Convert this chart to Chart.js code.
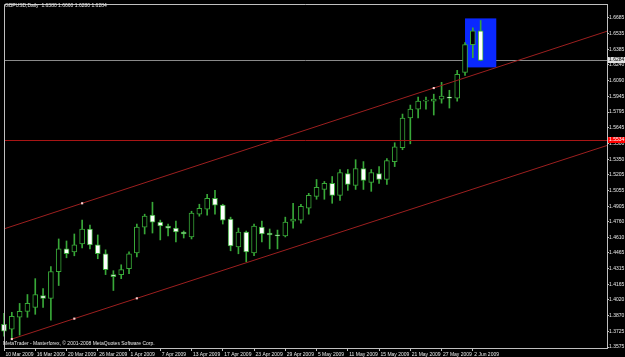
<!DOCTYPE html>
<html>
<head>
<meta charset="utf-8">
<script src="https://cdn.jsdelivr.net/npm/chart.js@4.4.0/dist/chart.umd.min.js"></script>
<style>
  html, body { margin: 0; padding: 0; background: #000; }
  #myChart { display: block; }
</style>
</head>
<body>
<canvas id="myChart" width="625" height="357"></canvas>
<script>
// GBPUSD daily bars, 10 Mar 2009 - 3 Jun 2009
var dates = [
  '10 Mar 2009', '11 Mar 2009', '12 Mar 2009', '13 Mar 2009', '16 Mar 2009', '17 Mar 2009', '18 Mar 2009', '19 Mar 2009',
  '20 Mar 2009', '23 Mar 2009', '24 Mar 2009', '25 Mar 2009', '26 Mar 2009', '27 Mar 2009', '30 Mar 2009', '31 Mar 2009',
  '1 Apr 2009', '2 Apr 2009', '3 Apr 2009', '6 Apr 2009', '7 Apr 2009', '8 Apr 2009', '9 Apr 2009', '10 Apr 2009',
  '13 Apr 2009', '14 Apr 2009', '15 Apr 2009', '16 Apr 2009', '17 Apr 2009', '20 Apr 2009', '21 Apr 2009', '22 Apr 2009',
  '23 Apr 2009', '24 Apr 2009', '27 Apr 2009', '28 Apr 2009', '29 Apr 2009', '30 Apr 2009',
  '1 May 2009', '4 May 2009', '5 May 2009', '6 May 2009', '7 May 2009', '8 May 2009', '11 May 2009', '12 May 2009',
  '13 May 2009', '14 May 2009', '15 May 2009', '18 May 2009', '19 May 2009', '20 May 2009', '21 May 2009', '22 May 2009',
  '25 May 2009', '26 May 2009', '27 May 2009', '28 May 2009', '29 May 2009',
  '1 Jun 2009', '2 Jun 2009', '3 Jun 2009'
];

var openPrices = [
  1.3790, 1.3744, 1.3856, 1.3912, 1.3950, 1.4062, 1.4034, 1.4287, 1.4502, 1.4474,
  1.4549, 1.4690, 1.4540, 1.4456, 1.4259, 1.4259, 1.4315, 1.4465, 1.4708, 1.4821,
  1.4755, 1.4718, 1.4699, 1.4662, 1.4615, 1.4830, 1.4877, 1.4980, 1.4915, 1.4783,
  1.4521, 1.4662, 1.4465, 1.4708, 1.4652, 1.4634, 1.4624, 1.4765, 1.4774, 1.4886,
  1.4999, 1.5064, 1.5121, 1.5008, 1.5214, 1.5102, 1.5261, 1.5130, 1.5214, 1.5158,
  1.5327, 1.5458, 1.5739, 1.5823, 1.5898, 1.5898, 1.5917, 1.5936, 1.5926, 1.6170,
  1.6432, 1.6563
];
var highPrices = [
  1.3893, 1.3903, 1.3987, 1.4071, 1.4221, 1.4128, 1.4334, 1.4596, 1.4577, 1.4643,
  1.4774, 1.4727, 1.4634, 1.4493, 1.4296, 1.4352, 1.4474, 1.4737, 1.4830, 1.4943,
  1.4774, 1.4737, 1.4765, 1.4671, 1.4858, 1.4924, 1.5018, 1.5055, 1.4924, 1.4802,
  1.4699, 1.4671, 1.4737, 1.4765, 1.4690, 1.4680, 1.4802, 1.4933, 1.4924, 1.5027,
  1.5158, 1.5139, 1.5186, 1.5252, 1.5252, 1.5345, 1.5327, 1.5252, 1.5280, 1.5355,
  1.5505, 1.5776, 1.5861, 1.5936, 1.5936, 1.5964, 1.6076, 1.6001, 1.6189, 1.6451,
  1.6591, 1.6660
];
var lowPrices = [
  1.3678, 1.3650, 1.3687, 1.3856, 1.3884, 1.3950, 1.3828, 1.4156, 1.4418, 1.4437,
  1.4512, 1.4502, 1.4409, 1.4259, 1.4109, 1.4221, 1.4268, 1.4427, 1.4643, 1.4652,
  1.4587, 1.4624, 1.4568, 1.4605, 1.4596, 1.4811, 1.4821, 1.4830, 1.4737, 1.4484,
  1.4456, 1.4381, 1.4437, 1.4568, 1.4502, 1.4502, 1.4615, 1.4699, 1.4746, 1.4830,
  1.4971, 1.4971, 1.4933, 1.4961, 1.5055, 1.5064, 1.5064, 1.5046, 1.5121, 1.5111,
  1.5280, 1.5439, 1.5495, 1.5739, 1.5823, 1.5767, 1.5879, 1.5833, 1.5898, 1.6142,
  1.6310, 1.6280
];
var closePrices = [
  1.3725, 1.3865, 1.3912, 1.3987, 1.4071, 1.4034, 1.4287, 1.4502, 1.4456, 1.4540,
  1.4690, 1.4540, 1.4456, 1.4306, 1.4240, 1.4306, 1.4456, 1.4708, 1.4811, 1.4755,
  1.4718, 1.4699, 1.4662, 1.4643, 1.4840, 1.4886, 1.4980, 1.4915, 1.4774, 1.4530,
  1.4662, 1.4474, 1.4718, 1.4643, 1.4634, 1.4624, 1.4755, 1.4783, 1.4905, 1.5008,
  1.5083, 1.5121, 1.5008, 1.5224, 1.5111, 1.5261, 1.5149, 1.5224, 1.5158, 1.5336,
  1.5467, 1.5739, 1.5823, 1.5898, 1.5907, 1.5917, 1.5945, 1.5926, 1.6151, 1.6432,
  1.6563, 1.6284
];

// price axis labels (bottom to top) and dated bars on the time axis
var yTickText = [
  '1.3575', '1.3725', '1.3870', '1.4020', '1.4165', '1.4315', '1.4465', '1.4610', '1.4760', '1.4905', '1.5055',
  '1.5205', '1.5350', '1.5500', '1.5645', '1.5795', '1.5945', '1.6090', '1.6240', '1.6385', '1.6535', '1.6685'
];
var xTickBars = [0, 4, 8, 12, 16, 20, 24, 28, 32, 36, 40, 44, 48, 52, 56, 60];

// drawn objects: channel (bar index, price), horizontal line, rectangle
var upperChannelBars = [-1, 10, 55, 80];
var upperChannelPrices = [1.4667, 1.4933, 1.6022, 1.6627];
var lowerChannelBars = [1, 9, 17, 80];
var lowerChannelPrices = [1.3650, 1.3843, 1.4035, 1.5547];
var channelDots = [0, 1, 1, 0];
var lowerDots = [1, 1, 1, 0];
var redLinePrice = 1.5534;
var boxBars = [59, 63];
var boxPrices = [1.6680, 1.6217];

var titleText = 'GBPUSD,Daily  1.6380 1.6660 1.6280 1.6284';
var footerText = 'MetaTrader - Masterforex, \u00a9 2001-2008 MetaQuotes Software Corp.';

var fontFamily = "'Liberation Sans', Arial, sans-serif";
var green = '#38a838';
var frameGrey = '#bfbfbf';
var bidPrice = closePrices[closePrices.length - 1];

var bodyData = [], wickData = [], bodyFill = [];
for (var i = 0; i < dates.length; i++) {
  bodyData.push({ x: i, y: [openPrices[i], closePrices[i]] });
  wickData.push({ x: i, y: [lowPrices[i], highPrices[i]] });
  bodyFill.push(closePrices[i] >= openPrices[i] ? '#000000' : '#ffffff');
}
var upperData = upperChannelBars.map(function (b, k) { return { x: b, y: upperChannelPrices[k] }; });
var lowerData = lowerChannelBars.map(function (b, k) { return { x: b, y: lowerChannelPrices[k] }; });

var mtOverlay = {
  id: 'mtOverlay',
  beforeDraw: function (chart) {
    var c = chart.ctx;
    c.save();
    c.fillStyle = '#000';
    c.fillRect(0, 0, chart.width, chart.height);
    c.restore();
  },
  beforeDatasetsDraw: function (chart) {
    var c = chart.ctx, xs = chart.scales.x, ys = chart.scales.y, a = chart.chartArea;
    c.save();
    // bid line
    var yb = Math.round(ys.getPixelForValue(bidPrice)) + 0.5;
    c.strokeStyle = '#8a8a8a';
    c.lineWidth = 1;
    c.beginPath(); c.moveTo(a.left, yb); c.lineTo(a.right, yb); c.stroke();
    // rectangle
    var x1 = xs.getPixelForValue(boxBars[0]), x2 = xs.getPixelForValue(boxBars[1]);
    var y1 = ys.getPixelForValue(boxPrices[0]), y2 = ys.getPixelForValue(boxPrices[1]);
    c.fillStyle = '#0a28ff';
    c.fillRect(x1, y1, x2 - x1, y2 - y1);
    c.restore();
  },
  afterDatasetsDraw: function (chart) {
    var c = chart.ctx, ys = chart.scales.y, a = chart.chartArea;
    var yr = Math.round(ys.getPixelForValue(redLinePrice)) + 0.5;
    c.save();
    c.strokeStyle = '#a81515';
    c.lineWidth = 1;
    c.beginPath(); c.moveTo(a.left, yr); c.lineTo(a.right, yr); c.stroke();
    c.restore();
  },
  afterDraw: function (chart) {
    var c = chart.ctx, ys = chart.scales.y, a = chart.chartArea;
    c.save();
    // frame
    c.strokeStyle = frameGrey;
    c.lineWidth = 1;
    c.beginPath();
    c.moveTo(a.left + 0.5, a.bottom); c.lineTo(a.left + 0.5, a.top + 0.5); c.lineTo(a.right, a.top + 0.5);
    c.stroke();
    // texts
    c.font = '5px ' + fontFamily;
    c.fillStyle = '#e8e8e8';
    c.textBaseline = 'middle';
    c.textAlign = 'left';
    c.fillText(titleText, 5, 6);
    c.fillText(footerText, 3, 344);
    // price tags on the axis
    var tags = [[bidPrice, '#e0e0e0', '#000000'], [redLinePrice, '#ff0000', '#ffffff']];
    tags.forEach(function (t) {
      var py = Math.round(ys.getPixelForValue(t[0]));
      c.fillStyle = t[1];
      c.fillRect(a.right + 1, py - 3, 17, 6);
      c.fillStyle = t[2];
      c.fillText(t[0].toFixed(4), a.right + 2, py);
    });
    c.restore();
  }
};

var ctx = document.getElementById('myChart').getContext('2d');

var myChart = new Chart(ctx, {
  type: 'bar',
  data: {
    datasets: [
      {
        type: 'line',
        label: 'Channel top',
        data: upperData,
        borderColor: '#9c1f1f',
        borderWidth: 1,
        tension: 0,
        pointStyle: 'rect',
        pointRadius: channelDots.map(function (d) { return d ? 1.5 : 0; }),
        pointBackgroundColor: '#ffd0d0',
        pointBorderWidth: 0,
        order: 0
      },
      {
        type: 'line',
        label: 'Channel bottom',
        data: lowerData,
        borderColor: '#9c1f1f',
        borderWidth: 1,
        tension: 0,
        pointStyle: 'rect',
        pointRadius: lowerDots.map(function (d) { return d ? 1.5 : 0; }),
        pointBackgroundColor: '#ffd0d0',
        pointBorderWidth: 0,
        order: 0
      },
      {
        label: 'Body',
        data: bodyData,
        backgroundColor: bodyFill,
        borderColor: green,
        borderWidth: 1,
        borderSkipped: false,
        barThickness: 5,
        minBarLength: 1,
        grouped: false,
        clip: false,
        order: 1
      },
      {
        label: 'Wick',
        data: wickData,
        backgroundColor: green,
        borderWidth: 0,
        barThickness: 1,
        grouped: false,
        clip: false,
        order: 2
      }
    ]
  },
  options: {
    responsive: false,
    animation: false,
    devicePixelRatio: 1,
    layout: { padding: { left: 2, top: 1, right: 0, bottom: 0 } },
    plugins: { legend: { display: false }, tooltip: { enabled: false } },
    events: [],
    scales: {
      x: {
        type: 'linear',
        position: 'bottom',
        min: 0,
        max: 77.17,
        offset: false,
        afterBuildTicks: function (scale) {
          scale.ticks = xTickBars.map(function (v) { return { value: v }; });
        },
        afterFit: function (scale) {
          scale.height = 9;
          scale.paddingLeft = 0;
          scale.paddingRight = 0;
        },
        ticks: {
          color: '#e8e8e8',
          font: { family: fontFamily, size: 5 },
          padding: 1,
          align: 'start',
          autoSkip: false,
          maxRotation: 0,
          minRotation: 0,
          callback: function (v) { return ' ' + dates[v]; }
        },
        grid: { drawOnChartArea: false, offset: false, tickLength: 3, color: frameGrey },
        border: { color: frameGrey }
      },
      y: {
        position: 'right',
        min: 1.35656,
        max: 1.68161,
        afterBuildTicks: function (scale) {
          scale.ticks = yTickText.map(function (t) { return { value: parseFloat(t) }; });
        },
        afterFit: function (scale) {
          scale.width = 18;
          scale.paddingTop = 0;
          scale.paddingBottom = 0;
        },
        ticks: {
          color: '#e8e8e8',
          font: { family: fontFamily, size: 5 },
          padding: 0,
          crossAlign: 'near',
          callback: function (v, idx) { return yTickText[idx]; }
        },
        grid: { drawOnChartArea: false, tickLength: 2, color: frameGrey },
        border: { color: frameGrey }
      }
    }
  },
  plugins: [mtOverlay]
});
</script>
</body>
</html>
